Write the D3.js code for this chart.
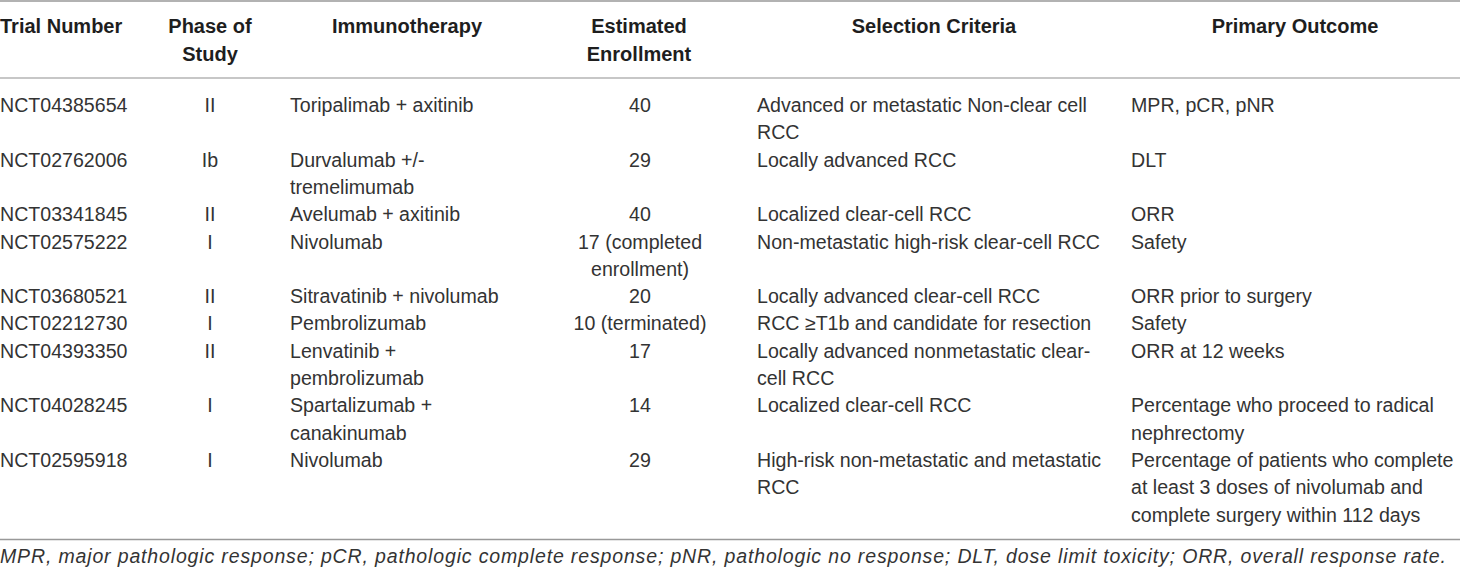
<!DOCTYPE html>
<meta charset="utf-8">
<style>
    body { margin: 0; background: white; }
    svg text { font-family: "Liberation Sans", Arial, sans-serif; fill: #333; }
    svg .head { font-weight: bold; fill: #1e1e1e; }
    svg .note { font-style: italic; letter-spacing: 0.85px; }
</style>
<body>
<script src="https://cdn.jsdelivr.net/npm/d3@7"></script>
<script>
    // table content, each cell is a list of its wrapped lines
    var headers = [["Trial Number"], ["Phase of", "Study"], ["Immunotherapy"],
                   ["Estimated", "Enrollment"], ["Selection Criteria"], ["Primary Outcome"]];

    var trialNumbers = ["NCT04385654", "NCT02762006", "NCT03341845", "NCT02575222", "NCT03680521",
                        "NCT02212730", "NCT04393350", "NCT04028245", "NCT02595918"];

    var phases = ["II", "Ib", "II", "I", "II", "I", "II", "I", "I"];

    var therapies = [["Toripalimab + axitinib"], ["Durvalumab +/-", "tremelimumab"], ["Avelumab + axitinib"],
                     ["Nivolumab"], ["Sitravatinib + nivolumab"], ["Pembrolizumab"],
                     ["Lenvatinib +", "pembrolizumab"], ["Spartalizumab +", "canakinumab"], ["Nivolumab"]];

    var enrollment = [["40"], ["29"], ["40"], ["17 (completed", "enrollment)"], ["20"],
                      ["10 (terminated)"], ["17"], ["14"], ["29"]];

    var criteria = [["Advanced or metastatic Non-clear cell", "RCC"], ["Locally advanced RCC"],
                    ["Localized clear-cell RCC"], ["Non-metastatic high-risk clear-cell RCC"],
                    ["Locally advanced clear-cell RCC"], ["RCC \u2265T1b and candidate for resection"],
                    ["Locally advanced nonmetastatic clear-", "cell RCC"], ["Localized clear-cell RCC"],
                    ["High-risk non-metastatic and metastatic", "RCC"]];

    var outcomes = [["MPR, pCR, pNR"], ["DLT"], ["ORR"], ["Safety"], ["ORR prior to surgery"], ["Safety"],
                    ["ORR at 12 weeks"], ["Percentage who proceed to radical", "nephrectomy"],
                    ["Percentage of patients who complete", "at least 3 doses of nivolumab and",
                     "complete surgery within 112 days"]];

    var footnote = "MPR, major pathologic response; pCR, pathologic complete response; pNR, pathologic no response; DLT, dose limit toxicity; ORR, overall response rate.";

    var w = 1460;
    var h = 570;
    var lineH = 27.3;
    var fontSize = 19.6;

    var svg = d3.select("body").append("svg")
                .attr("width", w)
                .attr("height", h);

    // column anchors
    var colKeys = d3.range(6);
    var headX = d3.scaleOrdinal().domain(colKeys).range([0, 210, 407, 639, 934, 1295]);
    var headAnchor = d3.scaleOrdinal().domain(colKeys).range(["start", "middle", "middle", "middle", "middle", "middle"]);
    var bodyX = d3.scaleOrdinal().domain(colKeys).range([0, 210, 290, 640, 757, 1131]);
    var bodyAnchor = d3.scaleOrdinal().domain(colKeys).range(["start", "middle", "start", "middle", "start", "start"]);

    // rows
    var rows = trialNumbers.map(function(t, i) {
        return [[t], [phases[i]], therapies[i], enrollment[i], criteria[i], outcomes[i]];
    });
    var rowLines = rows.map(function(r) { return d3.max(r, function(c) { return c.length; }); });
    var rowStart = [0];
    rowLines.forEach(function(n, i) { rowStart.push(rowStart[i] + n); });

    // y scale in "line units" from first body baseline
    var y = d3.scaleLinear().domain([0, 1]).range([112, 112 + lineH]);

    // rules
    var rules = [1, 78, 539.5];
    svg.selectAll("line.rule")
        .data(rules)
        .enter()
        .append("line")
        .attr("class", "rule")
        .attr("x1", 0).attr("x2", w)
        .attr("y1", function(d) { return d; })
        .attr("y2", function(d) { return d; })
        .attr("stroke", function(d, i) { return i == 1 ? "#b5b5b5" : "#999"; })
        .attr("stroke-width", 1.3);

    // header
    var head = svg.selectAll("text.head")
        .data(headers)
        .enter()
        .append("text")
        .attr("class", "head")
        .attr("font-size", 20)
        .attr("text-anchor", function(d, i) { return headAnchor(i); });
    head.selectAll("tspan")
        .data(function(d, i) { return d.map(function(s) { return {s: s, c: i}; }); })
        .enter()
        .append("tspan")
        .attr("x", function(d) { return headX(d.c); })
        .attr("y", function(d, j) { return 33 + j * 28; })
        .text(function(d) { return d.s; });

    // body cells
    var cells = [];
    rows.forEach(function(r, i) {
        r.forEach(function(lines, c) {
            lines.forEach(function(s, j) {
                cells.push({s: s, c: c, line: rowStart[i] + j});
            });
        });
    });

    svg.selectAll("text.cell")
        .data(cells)
        .enter()
        .append("text")
        .attr("class", "cell")
        .attr("font-size", fontSize)
        .attr("x", function(d) { return bodyX(d.c); })
        .attr("y", function(d) { return y(d.line); })
        .attr("text-anchor", function(d) { return bodyAnchor(d.c); })
        .text(function(d) { return d.s; });

    svg.append("text")
        .attr("class", "note")
        .attr("font-size", 19.5)
        .attr("x", 0)
        .attr("y", 563)
        .text(footnote);
</script>
</body>
